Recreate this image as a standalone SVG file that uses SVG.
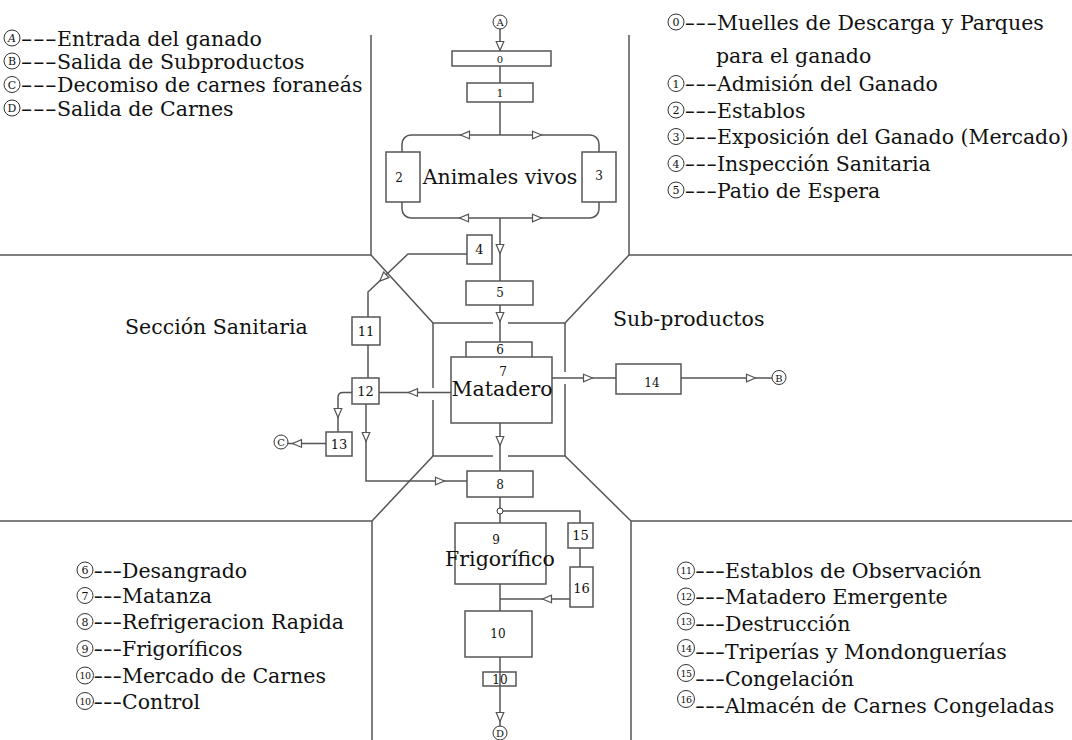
<svg xmlns="http://www.w3.org/2000/svg" xmlns:xlink="http://www.w3.org/1999/xlink" width="1072" height="740" viewBox="0 0 1072 740">
<style>
.ln{fill:none;stroke:#555;stroke-width:1.5}
.bx{fill:#fff;stroke:#555;stroke-width:1.5}
.cr{fill:#fff;stroke:#333;stroke-width:1}
.t{font-family:'DejaVu Serif',serif;fill:#111}
.n{font-size:12px;text-anchor:middle}
.cn{font-size:11px;text-anchor:middle}
.cn2{font-size:9.5px;text-anchor:middle;letter-spacing:-0.6px}
.big{font-size:20.5px;text-anchor:middle}
.lg{font-size:20.5px}
</style>
<defs>
<path id="ah" d="M-4.5,-3.8 L4.5,0 L-4.5,3.8 Z" fill="#fff" stroke="#555" stroke-width="1.2"/>
</defs>
<rect width="1072" height="740" fill="#fff"/>
<g id="sectors" class="ln">
<path d="M371,35 V255 H0 M371,255 L433,323 H493 M508,323 H565 L629,255 V35 M629,255 H1072"/>
<path d="M433,323 V388 M433,400 V456 M565,323 V372 M565,384 V456"/>
<path d="M493,456 H433 L372,521 V740 M372,521 H0 M508,456 H565 L631,521 V740 M631,521 H1072"/>
</g>
<g id="connectors">
<path class="ln" d="M500,29 V51 M500,66 V83 M500,102 V135 M500,218 V281 M500,305 V342 M500,423 V471 M500,497 V523 M500,584 V611 M500,657 V727"/>
<rect class="ln" x="402" y="135" width="197" height="83" rx="9"/>
<path class="ln" d="M467,254 H408 L368,292 V317 M368,345 V378 M451,392.5 H379 M352,392.5 H343 Q338,392.5 338,397.5 V432 M326,443.5 H287 M366,404 V481 H467 M552,378 H616 M681,378 H773 M503,511 H580 V523 M580,548 V567 M570,599 H500"/>
<use xlink:href="#ah" transform="translate(500,46) rotate(90)"/>
<use xlink:href="#ah" transform="translate(465,135) rotate(180)"/>
<use xlink:href="#ah" transform="translate(537,135)"/>
<use xlink:href="#ah" transform="translate(464,218) rotate(180)"/>
<use xlink:href="#ah" transform="translate(537,218)"/>
<use xlink:href="#ah" transform="translate(500,249) rotate(90)"/>
<use xlink:href="#ah" transform="translate(383,278) rotate(136)"/>
<use xlink:href="#ah" transform="translate(500,317) rotate(90)"/>
<use xlink:href="#ah" transform="translate(413,392.5) rotate(180)"/>
<use xlink:href="#ah" transform="translate(338,413) rotate(90)"/>
<use xlink:href="#ah" transform="translate(297,443.5) rotate(180)"/>
<use xlink:href="#ah" transform="translate(366,437) rotate(90)"/>
<use xlink:href="#ah" transform="translate(440,481)"/>
<use xlink:href="#ah" transform="translate(500,441) rotate(90)"/>
<use xlink:href="#ah" transform="translate(588,378)"/>
<use xlink:href="#ah" transform="translate(751,378)"/>
<use xlink:href="#ah" transform="translate(547,599) rotate(180)"/>
<use xlink:href="#ah" transform="translate(500,717) rotate(90)"/>
<circle class="cr" cx="500" cy="511" r="3"/>
</g>
<g id="term-A"><circle class="cr" cx="500" cy="22" r="7"/><text class="t cn" x="500" y="26" style="font-size:10px">A</text></g>
<g id="term-B"><circle class="cr" cx="779" cy="377.5" r="7"/><text class="t cn" x="779" y="381.5" style="font-size:10px">B</text></g>
<g id="term-C"><circle class="cr" cx="281" cy="442" r="7"/><text class="t cn" x="281" y="446" style="font-size:10px">C</text></g>
<g id="term-D"><circle class="cr" cx="500" cy="733" r="7"/><text class="t cn" x="500" y="737" style="font-size:10px">D</text></g>
<g id="n0"><rect class="bx" x="452" y="51" width="99" height="15"/><text class="t n" x="500" y="62.5" style="font-size:10px">0</text></g>
<g id="n1"><rect class="bx" x="467" y="83" width="66" height="19"/><text class="t n" x="500" y="97" style="font-size:11px">1</text></g>
<g id="n2"><rect class="bx" x="386" y="152" width="34" height="50"/><text class="t n" x="399" y="182">2</text></g>
<g id="n3"><rect class="bx" x="582" y="152" width="34" height="50"/><text class="t n" x="599" y="180">3</text></g>
<text class="t big" x="500" y="184">Animales vivos</text>
<g id="n4"><rect class="bx" x="467" y="235" width="25" height="29"/><text class="t n" x="479.5" y="254" style="font-size:13px">4</text></g>
<g id="n5"><rect class="bx" x="466" y="281" width="67" height="24"/><text class="t n" x="500" y="297">5</text></g>
<g id="n6"><rect class="bx" x="466" y="342" width="66" height="16"/><text class="t n" x="500" y="354">6</text></g>
<g id="n7"><rect class="bx" x="451" y="357" width="101" height="66"/><text class="t n" x="503" y="376">7</text><text class="t big" x="502" y="396">Matadero</text></g>
<g id="n8"><rect class="bx" x="467" y="471" width="66" height="26"/><text class="t n" x="500" y="488.5">8</text></g>
<g id="n9"><rect class="bx" x="455" y="523" width="91" height="61"/><text class="t n" x="496" y="544">9</text><text class="t big" x="500" y="566">Frigorífico</text></g>
<g id="n10"><rect class="bx" x="465" y="611" width="67" height="46"/><text class="t n" x="498" y="638">10</text></g>
<g id="n10b"><rect class="ln" x="483" y="672" width="33" height="14"/><text class="t n" x="500" y="684">10</text></g>
<g id="n11"><rect class="bx" x="352" y="317" width="28" height="28"/><text class="t n" x="366" y="336" style="font-size:13px">11</text></g>
<g id="n12"><rect class="bx" x="352" y="378" width="27" height="26"/><text class="t n" x="365.5" y="396" style="font-size:13px">12</text></g>
<g id="n13"><rect class="bx" x="326" y="432" width="26" height="24"/><text class="t n" x="339" y="449" style="font-size:13px">13</text></g>
<g id="n14"><rect class="bx" x="616" y="364" width="65" height="30"/><text class="t n" x="652" y="387">14</text></g>
<g id="n15"><rect class="bx" x="568" y="523" width="25" height="25"/><text class="t n" x="580.5" y="540" style="font-size:13px">15</text></g>
<g id="n16"><rect class="bx" x="570" y="567" width="23" height="40"/><text class="t n" x="581.5" y="593" style="font-size:13px">16</text></g>
<g id="regions">
<text class="t lg" x="125" y="334">Sección Sanitaria</text>
<text class="t lg" x="613" y="326">Sub-productos</text>
</g>
<g id="legend-tl" class="t">
<circle class="cr" cx="12" cy="38" r="8"/><text class="cn" x="12" y="42" font-style="italic">A</text>
<circle class="cr" cx="12" cy="61" r="8"/><text class="cn" x="12" y="65">B</text>
<circle class="cr" cx="12" cy="84.5" r="8"/><text class="cn" x="12" y="88.5">C</text>
<circle class="cr" cx="12" cy="108" r="8"/><text class="cn" x="12" y="112">D</text>
<g class="lg">
<text y="45.5"><tspan x="20.5" textLength="36.5" lengthAdjust="spacingAndGlyphs">---</tspan><tspan x="57">Entrada del ganado</tspan></text>
<text y="68.5"><tspan x="20.5" textLength="36.5" lengthAdjust="spacingAndGlyphs">---</tspan><tspan x="57">Salida de Subproductos</tspan></text>
<text y="92"><tspan x="20.5" textLength="36.5" lengthAdjust="spacingAndGlyphs">---</tspan><tspan x="57">Decomiso de carnes foraneás</tspan></text>
<text y="115.5"><tspan x="20.5" textLength="36.5" lengthAdjust="spacingAndGlyphs">---</tspan><tspan x="57">Salida de Carnes</tspan></text>
</g>
</g>
<g id="legend-tr" class="t">
<circle class="cr" cx="676" cy="22" r="8"/><text class="cn" x="676" y="26">0</text>
<circle class="cr" cx="676" cy="83.5" r="8"/><text class="cn" x="676" y="87.5">1</text>
<circle class="cr" cx="676" cy="110" r="8"/><text class="cn" x="676" y="114">2</text>
<circle class="cr" cx="676" cy="136.5" r="8"/><text class="cn" x="676" y="140.5">3</text>
<circle class="cr" cx="676" cy="163.5" r="8"/><text class="cn" x="676" y="167.5">4</text>
<circle class="cr" cx="676" cy="190" r="8"/><text class="cn" x="676" y="194">5</text>
<g class="lg">
<text y="29.5"><tspan x="684.5" textLength="32.5" lengthAdjust="spacingAndGlyphs">---</tspan><tspan x="717">Muelles de Descarga y Parques</tspan></text>
<text x="716" y="62.5">para el ganado</text>
<text y="91"><tspan x="684.5" textLength="32.5" lengthAdjust="spacingAndGlyphs">---</tspan><tspan x="717">Admisión del Ganado</tspan></text>
<text y="117.5"><tspan x="684.5" textLength="32.5" lengthAdjust="spacingAndGlyphs">---</tspan><tspan x="717">Establos</tspan></text>
<text y="144"><tspan x="684.5" textLength="32.5" lengthAdjust="spacingAndGlyphs">---</tspan><tspan x="717">Exposición del Ganado (Mercado)</tspan></text>
<text y="171"><tspan x="684.5" textLength="32.5" lengthAdjust="spacingAndGlyphs">---</tspan><tspan x="717">Inspección Sanitaria</tspan></text>
<text y="197.5"><tspan x="684.5" textLength="32.5" lengthAdjust="spacingAndGlyphs">---</tspan><tspan x="717">Patio de Espera</tspan></text>
</g>
</g>
<g id="legend-bl" class="t">
<circle class="cr" cx="85" cy="570" r="8"/><text class="cn" x="85" y="574">6</text>
<circle class="cr" cx="85" cy="595.5" r="8"/><text class="cn" x="85" y="599.5">7</text>
<circle class="cr" cx="85" cy="621.5" r="8"/><text class="cn" x="85" y="625.5">8</text>
<circle class="cr" cx="85" cy="648.5" r="8"/><text class="cn" x="85" y="652.5">9</text>
<circle class="cr" cx="85" cy="675.5" r="8.5"/><text class="cn2" x="85" y="679">10</text>
<circle class="cr" cx="85" cy="701" r="8.5"/><text class="cn2" x="85" y="704.5">10</text>
<g class="lg">
<text y="577.5"><tspan x="93.5" textLength="28.5" lengthAdjust="spacingAndGlyphs">---</tspan><tspan x="122">Desangrado</tspan></text>
<text y="603"><tspan x="93.5" textLength="28.5" lengthAdjust="spacingAndGlyphs">---</tspan><tspan x="122">Matanza</tspan></text>
<text y="629"><tspan x="93.5" textLength="28.5" lengthAdjust="spacingAndGlyphs">---</tspan><tspan x="122">Refrigeracion Rapida</tspan></text>
<text y="656"><tspan x="93.5" textLength="28.5" lengthAdjust="spacingAndGlyphs">---</tspan><tspan x="122">Frigoríficos</tspan></text>
<text y="683"><tspan x="93.5" textLength="28.5" lengthAdjust="spacingAndGlyphs">---</tspan><tspan x="122">Mercado de Carnes</tspan></text>
<text y="708.5"><tspan x="93.5" textLength="28.5" lengthAdjust="spacingAndGlyphs">---</tspan><tspan x="122">Control</tspan></text>
</g>
</g>
<g id="legend-br" class="t">
<circle class="cr" cx="686" cy="570.5" r="8.5"/><text class="cn2" x="686" y="574">11</text>
<circle class="cr" cx="686" cy="596.5" r="8.5"/><text class="cn2" x="686" y="600">12</text>
<circle class="cr" cx="686" cy="621.5" r="8.5"/><text class="cn2" x="686" y="625">13</text>
<circle class="cr" cx="686" cy="648" r="8.5"/><text class="cn2" x="686" y="651.5">14</text>
<circle class="cr" cx="686" cy="673" r="8.5"/><text class="cn2" x="686" y="676.5">15</text>
<circle class="cr" cx="686" cy="699" r="8.5"/><text class="cn2" x="686" y="702.5">16</text>
<g class="lg">
<text y="578"><tspan x="695" textLength="30" lengthAdjust="spacingAndGlyphs">---</tspan><tspan x="725">Establos de Observación</tspan></text>
<text y="604"><tspan x="695" textLength="30" lengthAdjust="spacingAndGlyphs">---</tspan><tspan x="725">Matadero Emergente</tspan></text>
<text y="631"><tspan x="695" textLength="30" lengthAdjust="spacingAndGlyphs">---</tspan><tspan x="725">Destrucción</tspan></text>
<text y="659"><tspan x="695" textLength="30" lengthAdjust="spacingAndGlyphs">---</tspan><tspan x="725">Triperías y Mondonguerías</tspan></text>
<text y="686"><tspan x="695" textLength="30" lengthAdjust="spacingAndGlyphs">---</tspan><tspan x="725">Congelación</tspan></text>
<text y="712.5"><tspan x="695" textLength="30" lengthAdjust="spacingAndGlyphs">---</tspan><tspan x="725">Almacén de Carnes Congeladas</tspan></text>
</g>
</g>
</svg>
